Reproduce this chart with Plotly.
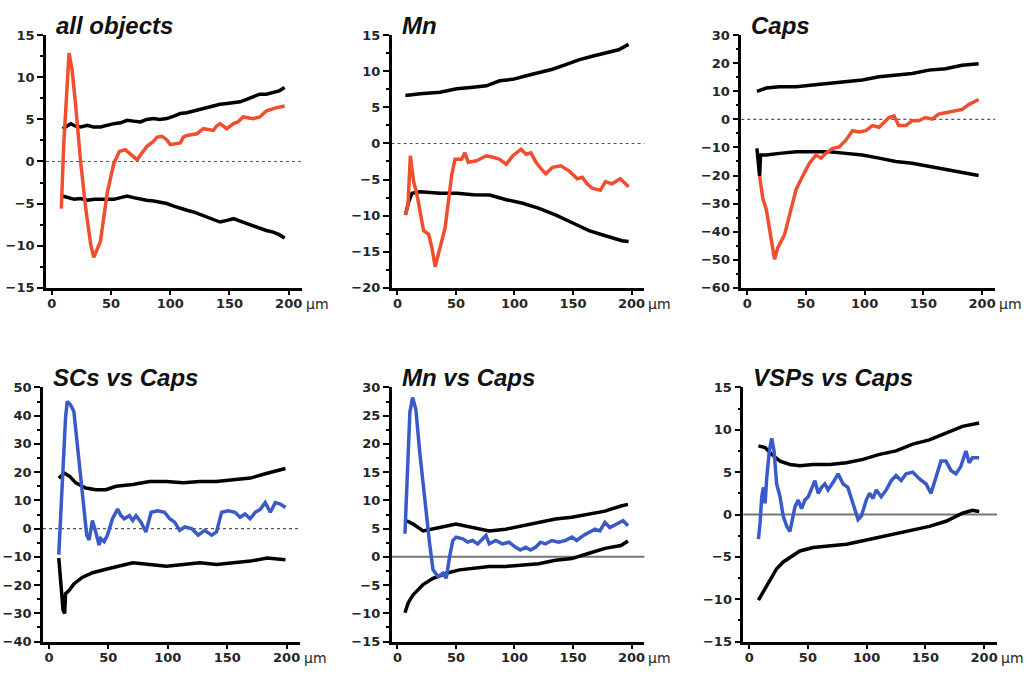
import plotly.graph_objects as go

W, H = 1032, 677

# ---------------- data ----------------
titles = ["all objects", "Mn", "Caps", "SCs vs Caps", "Mn vs Caps", "VSPs vs Caps"]
x_ticks = [0, 50, 100, 150, 200]
y_tick_sets = [
    [-15, -10, -5, 0, 5, 10, 15],
    [-20, -15, -10, -5, 0, 5, 10, 15],
    [-60, -50, -40, -30, -20, -10, 0, 10, 20, 30],
    [-40, -30, -20, -10, 0, 10, 20, 30, 40, 50],
    [-15, -10, -5, 0, 5, 10, 15, 20, 25, 30],
    [-15, -10, -5, 0, 5, 10, 15],
]

# Panel 1: all objects
p1_x_col = [8, 10, 14.5, 17, 20, 24.4, 28.6, 32.8, 35.4, 38, 41, 44, 46.8, 52.4, 57, 62, 67, 72, 76,
            80.4, 85, 89, 93, 97, 100, 108.4, 111, 114, 122.6, 125, 128, 136.4, 139, 142, 147.7,
            153.4, 157, 161.6, 170, 175.6, 181, 189.6, 196.6]
p1_y_col = [-5.6, 2, 12.9, 11, 6.8, -0.2, -5.6, -9.9, -11.4, -10.6, -9.5, -6.5, -3.7, -0.2, 1.2, 1.4,
            0.8, 0.2, 1.0, 1.8, 2.3, 2.9, 3.0, 2.6, 2.0, 2.2, 2.9, 3.1, 3.3, 3.6, 3.9, 3.7, 4.2, 4.5,
            3.9, 4.5, 4.7, 5.3, 5.1, 5.3, 6.0, 6.4, 6.6]
p1_x_up = [9, 12, 16, 20, 24.4, 30, 35, 41, 46, 52.4, 58, 63.6, 69, 74.8, 80, 86, 91, 97, 103, 108.4,
           114, 119.6, 125, 131, 136, 142, 148, 153.4, 159, 164.5, 170, 175.6, 181, 187, 192, 196.6]
p1_y_up = [3.9, 4.2, 4.5, 4.2, 4.1, 4.3, 4.1, 4.1, 4.3, 4.5, 4.6, 4.9, 4.8, 4.7, 5.0, 5.1, 5.0, 5.1,
           5.4, 5.7, 5.8, 6.0, 6.2, 6.4, 6.6, 6.8, 6.9, 7.0, 7.1, 7.4, 7.7, 8.0, 8.0, 8.2, 8.4, 8.8]
p1_x_lo = [9, 14, 18.9, 24, 30, 36, 41, 46, 52.4, 58, 63.6, 69, 74.8, 80, 86, 91, 97, 103, 108.4, 114,
           119.6, 125, 131, 136, 142, 148, 153.4, 159, 164.5, 170, 175.6, 181, 187, 192, 196.6]
p1_y_lo = [-4.1, -4.3, -4.5, -4.4, -4.6, -4.5, -4.5, -4.4, -4.5, -4.3, -4.1, -4.3, -4.5, -4.6, -4.7,
           -4.8, -5.0, -5.3, -5.6, -5.8, -6.0, -6.3, -6.6, -6.9, -7.2, -7.0, -6.8, -7.1, -7.4, -7.6,
           -8.0, -8.2, -8.4, -8.7, -9.1]

# Panel 2: Mn
p2_x_col = [6.8, 9, 11, 13.8, 16.7, 19.5, 22.3, 26.6, 29.4, 32.2, 36.4, 40.7, 43.5, 46.3, 49.2, 54.8,
            57.6, 60.5, 67.5, 76, 81.6, 87.3, 93, 98.6, 105.6, 110, 114, 118.4, 122.6, 126.8, 132.5,
            139.5, 146.6, 153.7, 158, 162, 166.4, 173.4, 177.7, 183.3, 190.4, 194.6, 197.5]
p2_y_col = [-9.9, -8.5, -1.7, -5.3, -7.1, -9.9, -12.1, -12.6, -14.4, -17.1, -14.4, -11.7, -8.1, -4.4,
            -2.2, -2.2, -1.3, -2.6, -2.4, -1.7, -1.9, -2.2, -2.9, -1.7, -0.8, -1.5, -1.3, -2.6, -3.5,
            -4.2, -3.3, -3.1, -3.8, -4.9, -4.7, -5.6, -6.2, -6.5, -5.3, -5.6, -4.9, -5.6, -6.0]
p2_x_up = [6.8, 19.5, 36.4, 50.6, 64.7, 76, 87.3, 98.6, 110, 121, 132.5, 143.8, 155, 166.4, 177.7,
           189, 197.5]
p2_y_up = [6.65, 6.9, 7.1, 7.6, 7.8, 8.0, 8.7, 8.9, 9.4, 9.8, 10.3, 10.95, 11.6, 12.1, 12.5, 13.0,
           13.75]
p2_x_lo = [6.8, 9.6, 12.4, 19.5, 36.4, 50.6, 64.7, 78.8, 93, 107, 121, 135, 149.4, 163.6, 177.7,
           191.8, 197.5]
p2_y_lo = [-9.9, -8.05, -6.9, -6.7, -6.9, -6.9, -7.1, -7.15, -7.8, -8.3, -9.0, -9.9, -11.0, -12.1,
           -12.8, -13.5, -13.6]

# Panel 3: Caps
p3_x_col = [10.6, 13.4, 16.2, 19, 21.9, 23.3, 26, 29, 31.8, 36, 41.7, 47.3, 53, 58.6, 62.9, 67, 72.7,
            78.4, 84, 89.7, 95.3, 101, 106.6, 112.3, 116.5, 120.8, 125, 129, 135, 140.5, 146, 151.8,
            157.5, 163, 168.8, 174.4, 183, 188.6, 197]
p3_y_col = [-20.2, -28.4, -31.9, -38.8, -45.8, -49.9, -45.8, -43.5, -41.2, -34.2, -24.9, -20.2, -15.6,
            -12.7, -13.8, -12.1, -10.3, -9.8, -7.4, -4.0, -4.5, -4.0, -2.2, -2.8, -1.0, 0.7, 1.3, -2.2,
            -2.2, -0.5, -0.5, 0.7, 0.1, 1.9, 2.4, 3.0, 3.6, 5.3, 7.1]
p3_x_up = [8.3, 16.2, 27.5, 41.7, 55.8, 70, 84, 98, 112.3, 126.4, 140.5, 154.7, 168.8, 183, 197]
p3_y_up = [10, 11.2, 11.7, 11.7, 12.3, 12.9, 13.5, 14.1, 15.2, 15.8, 16.4, 17.6, 18.1, 19.3, 19.9]
p3_x_lo = [8.3, 10.6, 11.4, 16.2, 27.5, 41.7, 55.8, 70, 84, 98, 112.3, 126.4, 140.5, 154.7, 168.8,
           183, 197]
p3_y_lo = [-10.3, -20.2, -12.7, -12.7, -12.1, -11.5, -11.5, -11.5, -12.1, -12.7, -13.8, -15.0, -15.6,
           -16.7, -17.9, -19.1, -20]

# Panel 4: SCs vs Caps
p4_x_col = [8.3, 11.2, 14, 15.4, 18.2, 21, 23.9, 26.7, 29.5, 31.8, 33.8, 36.6, 39.4, 42.2, 43.6, 46.5,
            49.3, 53.5, 57.8, 60.6, 63.4, 67.7, 70.5, 73.3, 77.5, 81.6, 86, 91.7, 97.3, 101.6, 105.8,
            110, 114.3, 120, 125.6, 131, 137, 141, 145.3, 151, 156.6, 160.8, 165, 169.3, 173.6, 178,
            182, 186.3, 190.5, 194.7, 199]
p4_y_col = [-9.2, 16.2, 39.2, 45, 43.8, 41.5, 30, 18.5, 6.9, -2.3, -4.0, 2.9, -1.2, -5.8, -3.5, -4.6,
            -2.3, 3.5, 6.9, 4.6, 3.5, 4.6, 2.9, 4.6, 2.3, -1.2, 5.8, 6.3, 5.8, 3.5, 2.3, -0.6, 0.6, 0,
            -2.3, -0.6, -2.3, -1.2, 5.8, 6.3, 5.8, 4, 5.2, 3.5, 5.8, 6.9, 9.2, 5.8, 9.2, 8.7, 7.5]
p4_x_up = [8.3, 13, 17.5, 22.6, 31, 39.5, 48, 56.5, 70.6, 84.7, 98.9, 113, 127, 141, 155, 169.5,
           183.6, 199]
p4_y_up = [17.9, 19.6, 18.5, 16.2, 14.4, 13.8, 13.8, 15.0, 15.6, 16.7, 16.7, 16.2, 16.7, 16.7, 17.3,
           17.9, 19.6, 21.3]
p4_x_lo = [8.3, 9.9, 11.9, 13.3, 14, 16.9, 21, 28, 36.7, 48, 59, 70.6, 84.7, 99, 113, 127, 141, 155,
           169.5, 183.6, 199]
p4_y_lo = [-10.4, -18.5, -28.8, -30, -23, -21.9, -19.6, -17.3, -15.6, -14.4, -13.3, -12.1, -12.7,
           -13.3, -12.7, -12.1, -12.7, -12.1, -11.5, -10.4, -11]

# Panel 5: Mn vs Caps
p5_x_col = [6.4, 7.8, 10.6, 12.9, 15.7, 19, 23.3, 27.5, 30.4, 34.6, 38.8, 41.7, 44.5, 47.3, 50.1,
            55.8, 60, 64.3, 68.5, 72.7, 75.6, 78.4, 84, 89.7, 95.3, 101, 105, 109.5, 113.7, 118,
            122.2, 126.4, 132, 137.7, 143.4, 149, 153.2, 158.9, 164.5, 168.8, 173, 177.3, 181.5,
            187, 192.8, 197]
p5_y_col = [4.1, 12.8, 25.6, 28.2, 26.1, 18.6, 9.9, 2.3, -2.3, -3.5, -2.9, -3.8, 0, 2.9, 3.5, 3.2,
            2.6, 2.9, 2.3, 3.2, 3.8, 2.3, 2.9, 2.3, 2.6, 1.7, 1.2, 1.7, 1.2, 1.7, 2.6, 2.3, 2.9, 2.6,
            2.9, 3.5, 2.9, 3.8, 4.4, 4.9, 4.6, 6.1, 5.2, 5.8, 6.4, 5.5]
p5_x_up = [7.8, 13.4, 21.9, 28, 36, 50, 64.3, 78.4, 92.5, 106.6, 120.8, 135, 149, 163, 177.3, 191,
           197]
p5_y_up = [6.4, 5.8, 4.6, 4.9, 5.2, 5.8, 5.2, 4.6, 4.9, 5.5, 6.1, 6.7, 7.0, 7.5, 8.1, 9.0, 9.3]
p5_x_lo = [6.4, 9.2, 13.4, 21.9, 30.4, 41.7, 53, 64.3, 78.4, 92.5, 106.6, 120.8, 135, 149, 163,
           177.3, 191, 197]
p5_y_lo = [-9.9, -8.1, -6.7, -4.9, -3.8, -2.9, -2.3, -2.0, -1.7, -1.7, -1.5, -1.2, -0.6, -0.3, 0.6,
           1.5, 2.0, 2.8]

# Panel 6: VSPs vs Caps
p6_x_col = [7.9, 9.3, 10.7, 12.1, 13.6, 15, 17.2, 19.2, 21.2, 23.4, 26.3, 29, 32, 34.7, 39, 41.8,
            44.6, 47.5, 50.3, 53, 56, 58.8, 61.6, 64.4, 67.2, 71.5, 75.7, 80, 84, 88.4, 92.7, 95.5,
            99.7, 102.5, 105.4, 108.2, 112.4, 116.7, 121, 125, 129.4, 133.6, 139.3, 145, 150.6,
            154.8, 159, 163.3, 167.5, 171.8, 176, 180, 184.5, 187.3, 190, 195.8]
p6_y_col = [-2.9, -1.0, 2.1, 3.2, 1.3, 4.4, 7.5, 9.0, 7.5, 3.6, 2.1, -0.2, -1.4, -2.0, 0.9, 1.7, 0.7,
            1.7, 2.1, 2.9, 4.0, 2.5, 3.2, 3.6, 2.9, 3.8, 4.8, 3.6, 3.2, 1.3, -0.6, -0.2, 1.7, 2.5,
            1.9, 2.9, 2.1, 2.9, 4.0, 4.6, 4.0, 4.8, 5.0, 4.2, 3.6, 2.5, 4.4, 6.3, 6.3, 5.2, 4.8, 5.6,
            7.5, 6.1, 6.7, 6.7]
p6_x_up = [7.9, 13.6, 19.2, 26.3, 34.7, 43.2, 54.5, 68.6, 82.8, 96.9, 111, 125, 139.3, 153.4, 167.5,
           181.6, 195.8]
p6_y_up = [8.1, 7.9, 7.1, 6.3, 5.9, 5.75, 5.9, 5.9, 6.1, 6.5, 7.1, 7.5, 8.3, 8.8, 9.6, 10.4, 10.8]
p6_x_lo = [7.9, 12.1, 17.8, 23.4, 29, 34.7, 43.2, 54.5, 68.6, 82.8, 96.9, 111, 125, 139.3, 153.4,
           167.5, 181.6, 190, 195.8]
p6_y_lo = [-10.1, -9.1, -7.6, -6.4, -5.6, -5.1, -4.3, -3.9, -3.7, -3.5, -3.1, -2.7, -2.2, -1.8, -1.4,
           -0.8, 0.15, 0.5, 0.35]

panels = [
    (p1_x_col, p1_y_col, p1_x_up, p1_y_up, p1_x_lo, p1_y_lo),
    (p2_x_col, p2_y_col, p2_x_up, p2_y_up, p2_x_lo, p2_y_lo),
    (p3_x_col, p3_y_col, p3_x_up, p3_y_up, p3_x_lo, p3_y_lo),
    (p4_x_col, p4_y_col, p4_x_up, p4_y_up, p4_x_lo, p4_y_lo),
    (p5_x_col, p5_y_col, p5_x_up, p5_y_up, p5_x_lo, p5_y_lo),
    (p6_x_col, p6_y_col, p6_x_up, p6_y_up, p6_x_lo, p6_y_lo),
]
col_colors = ["#f04e2e", "#f04e2e", "#f04e2e", "#3a5bc7", "#3a5bc7", "#3a5bc7"]

# ---------------- layout geometry (pixels) ----------------
x_px = [(46, 302), (392, 645), (742, 996), (43, 300), (392, 645), (744, 998)]
y_px = [(29, 287)] * 3 + [(389, 649)] * 3
X_RANGE = [-5, 211]
zero_dash = ["dot", "dot", "dot", "dot", "solid", "solid"]

fig = go.Figure()
tick_font = dict(family="DejaVu Sans, Liberation Sans, sans-serif", size=13, color="#262626",
                 weight=700)
title_font = dict(family="Liberation Sans, Arial, sans-serif", size=24, color="#111111",
                  weight="bold", style="italic")

layout = {}
annotations = []
shapes = []
for i in range(6):
    n = "" if i == 0 else str(i + 1)
    xa, ya = "x" + n, "y" + n
    xc, yc, xu, yu, xl, yl = panels[i]
    for xs, ys, c in [(xu, yu, "black"), (xl, yl, "black"), (xc, yc, col_colors[i])]:
        fig.add_trace(go.Scatter(x=xs, y=ys, mode="lines", xaxis=xa, yaxis=ya,
                                 line=dict(color=c, width=3.5), showlegend=False,
                                 hoverinfo="skip"))
    x0p, x1p = x_px[i]
    y0p, y1p = y_px[i]
    yt = y_tick_sets[i]
    step = yt[1] - yt[0]
    layout["xaxis" + n] = dict(
        domain=[x0p / W, x1p / W], range=X_RANGE, anchor=ya,
        showline=True, linecolor="black", linewidth=2.5,
        ticks="outside", ticklen=5, tickwidth=2, tickcolor="black",
        tickvals=x_ticks, showgrid=False, zeroline=False, tickfont=tick_font,
        ticklabelstandoff=-3,
    )
    layout["yaxis" + n] = dict(
        domain=[1 - y1p / H, 1 - y0p / H], range=[yt[0], yt[-1]], anchor=xa,
        showline=True, linecolor="black", linewidth=2.5,
        ticks="outside", ticklen=6, tickwidth=2, tickcolor="black",
        tickvals=yt, showgrid=False, zeroline=False, tickfont=tick_font,
        minor=dict(ticks="outside", ticklen=3, tickwidth=1.5, tickcolor="black",
                   tick0=yt[0] + step / 2, dtick=step, showgrid=False),
    )
    shapes.append(dict(type="line", xref=xa + " domain", yref=ya, x0=0, x1=1, y0=0, y1=0,
                       line=dict(color="#555555" if zero_dash[i] == "dot" else "#777777",
                                 width=1.2 if zero_dash[i] == "dot" else 2,
                                 dash=zero_dash[i]),
                       layer="below"))
    annotations.append(dict(text=titles[i], xref="paper", yref="paper",
                            x=(x0p + 8) / W, y=1 - (y0p - 10) / H,
                            xanchor="left", yanchor="middle", showarrow=False,
                            font=title_font))
    scale = (x1p - x0p) / (X_RANGE[1] - X_RANGE[0])
    x200 = x0p + (200 - X_RANGE[0]) * scale
    annotations.append(dict(text="µm", xref="paper", yref="paper",
                            x=(x200 + 15) / W, y=1 - (y1p + 17) / H,
                            xanchor="left", yanchor="middle", showarrow=False,
                            font=dict(family="DejaVu Sans, Liberation Sans, sans-serif", size=14,
                                      color="#262626")))

fig.update_layout(
    width=W, height=H, margin=dict(l=0, r=0, t=0, b=0),
    paper_bgcolor="white", plot_bgcolor="white",
    annotations=annotations, shapes=shapes, showlegend=False,
    **layout,
)
fig.write_html("out.html")
